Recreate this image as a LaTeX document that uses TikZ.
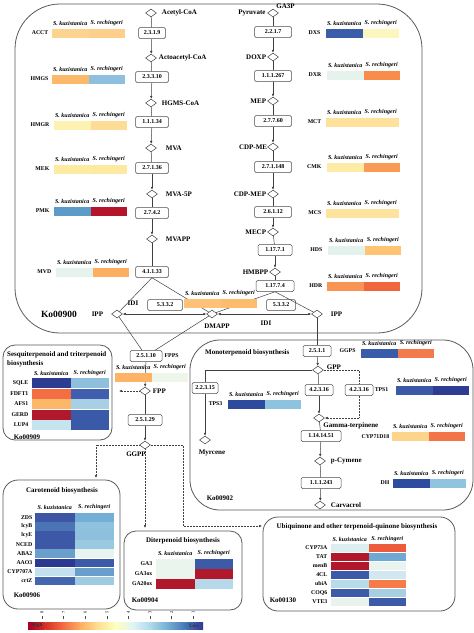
\documentclass[tikz,border=0pt]{standalone}
\usepackage{fontspec}
\setmainfont{Liberation Serif}
\usetikzlibrary{arrows.meta,positioning,shapes.geometric}
\definecolor{lg0}{HTML}{A50026}
\definecolor{lg1}{HTML}{D73027}
\definecolor{lg2}{HTML}{F46D43}
\definecolor{lg3}{HTML}{FDAE61}
\definecolor{lg4}{HTML}{FEE090}
\definecolor{lg5}{HTML}{FFFFBF}
\definecolor{lg6}{HTML}{E0F3F8}
\definecolor{lg7}{HTML}{ABD9E9}
\definecolor{lg8}{HTML}{74ADD1}
\definecolor{lg9}{HTML}{4575B4}
\definecolor{lg10}{HTML}{313695}
% two-cell heat bar: x, y(centre), cell width, height, left hex, right hex
\newcommand{\hmbar}[6]{%
  \definecolor{hmL}{HTML}{#5}\definecolor{hmR}{HTML}{#6}%
  \fill[hmL] (#1,#2-#4/2) rectangle ++(#3,#4);
  \fill[hmR] (#1+#3,#2-#4/2) rectangle ++(#3,#4);}
% species header: name, x, y, cell width
\newcommand{\hmhead}[4]{%
  \node[spec] (#1k) at (#2+#4/2,#3) {S. kuzistanica};
  \node[spec] (#1r) at (#2+1.5*#4,#3) {S. rechingeri};}
\newcommand{\heatpair}[5]{%
  \hmbar{#2}{#3}{36.5}{9}{#4}{#5}
  \hmhead{#1}{#2}{#3-10}{36.5}}

\begin{document}
\begin{tikzpicture}[x=1pt,y=-1pt,
  enz/.style={draw=black!70, fill=white, rounded corners=1.5pt, line width=0.5pt,
    font=\bfseries\fontsize{6}{7}\selectfont, inner xsep=3pt, inner ysep=0pt,
    minimum height=11pt, minimum width=33pt},
  met/.style={diamond, draw=black!75, fill=white, line width=0.5pt, inner sep=0pt,
    minimum width=11pt, minimum height=8pt},
  lbl/.style={font=\bfseries\fontsize{7}{8}\selectfont, inner sep=1pt},
  every label/.style={lbl}, label distance=4pt,
  gene/.style={font=\bfseries\fontsize{5.8}{6}\selectfont, inner sep=0.5pt},
  spec/.style={font=\bfseries\itshape\fontsize{6}{6}\selectfont, inner sep=0pt},
  ttl/.style={font=\bfseries\fontsize{7}{9}\selectfont, inner sep=0pt},
  kolbl/.style={font=\bfseries\fontsize{7}{8}\selectfont, inner sep=0pt},
  frame/.style={draw=black!65, line width=0.8pt},
  link/.style={draw=black!75, line width=0.5pt},
  flow/.style={link, -{Latex[length=3pt,width=2.6pt]}},
  dflow/.style={link, {Latex[length=3pt,width=2.6pt]}-{Latex[length=3pt,width=2.6pt]}},
  dots/.style={link, densely dotted, -{Latex[length=3pt,width=2.6pt]}}]
\useasboundingbox (0,0) rectangle (474,633);

% Pathway frames
\draw[frame, rounded corners=45pt] (15,4) rectangle (422,333);
\draw[frame, rounded corners=30pt] (190,340) rectangle (473,510);
\draw[frame, rounded corners=12pt] (3,345) rectangle (112,440);
\draw[frame, rounded corners=15pt] (3,480) rectangle (120,609);
\draw[frame, rounded corners=12pt] (124,531) rectangle (242,610);
\draw[frame, rounded corners=15pt] (263,517) rectangle (455,611);
\node[kolbl, font=\bfseries\fontsize{9.5}{10}\selectfont] (ko900) at (59,314) {Ko00900};
\node[kolbl] (ko909) at (27,437) {Ko00909};
\node[kolbl] (ko902) at (220,498) {Ko00902};
\node[kolbl] (ko906) at (27,595) {Ko00906};
\node[kolbl] (ko904) at (145,600) {Ko00904};
\node[kolbl] (ko130) at (283,600) {Ko00130};
\node[ttl, anchor=west] (monot) at (205,353) {Monoterpenoid biosynthesis};
\node[ttl, anchor=north west, align=left] (sesqt) at (7,351) {Sesquiterpenoid and triterpenoid\\biosynthesis};
\node[ttl] (cart) at (62,491) {Carotenoid biosynthesis};
\node[ttl] (ditt) at (183,541) {Diterpenoid biosynthesis};
\node[ttl] (ubqt) at (357,527) {Ubiquinone and other terpenoid-quinone biosynthesis};

% MVA pathway
\node[met, label={right:Acetyl-CoA}] (acoa) at (151,13) {};
\node[enz, minimum width=27pt] (e2319) at (152,33) {2.3.1.9};
\node[met, label={[xshift=-3pt]right:Actoacetyl-CoA}] (aacoa) at (151,58) {};
\node[enz] (e23310) at (152,77) {2.3.3.10};
\node[met, label={right:HGMS-CoA}] (hmgcoa) at (151,103) {};
\node[enz] (e11134) at (152,122) {1.1.1.34};
\node[met, label={[xshift=4pt]right:MVA}] (mva) at (151,148) {};
\node[enz] (e27136) at (152,168) {2.7.1.36};
\node[met, label={[xshift=3pt]right:MVA-5P}] (mva5p) at (152,194) {};
\node[enz] (e2742) at (152,213) {2.7.4.2};
\node[met, label={[xshift=3pt]right:MVAPP}] (mvapp) at (152,239) {};
\node[enz] (e41133) at (152,272) {4.1.1.33};

% MEP pathway
\node[met, label={[xshift=3.5pt]left:Pyruvate}, label={[xshift=-3pt,yshift=-2pt]above right:GA3P}] (pyr) at (273,13) {};
\node[enz, minimum width=37pt] (e2217) at (273,32) {2.2.1.7};
\node[met, label={[xshift=4pt]left:DOXP}] (doxp) at (273,57) {};
\node[enz, minimum width=37pt] (e111267) at (273,76) {1.1.1.267};
\node[met, label={[xshift=4pt]left:MEP}] (mep) at (273,101) {};
\node[enz, minimum width=37pt] (e27760) at (273,121) {2.7.7.60};
\node[met, label={[xshift=5pt]left:CDP-ME}] (cdpme) at (273,147) {};
\node[enz, minimum width=37pt] (e271148) at (273,167) {2.7.1.148};
\node[met, label={[xshift=4pt]left:CDP-MEP}] (cdpmep) at (273,194) {};
\node[enz, minimum width=37pt] (e26112) at (273,212) {2.6.1.12};
\node[met, label={[xshift=4pt]left:MECP}] (mecp) at (273,232) {};
\node[enz, minimum width=34pt] (e117171) at (275,250) {1.17.7.1};
\node[met, label={[xshift=4pt]left:HMBPP}] (hmbpp) at (275,272) {};
\node[enz, minimum width=38pt] (e117174) at (275,286) {1.17.7.4};

% IPP / DMAPP
\node[met, label={[xshift=-3pt]left:IPP}] (ippl) at (117,314) {};
\node[met, label={[xshift=5pt]below:DMAPP}] (dmapp) at (212,314) {};
\node[met, label={[xshift=3pt]right:IPP}] (ippr) at (317,314) {};
\node[enz, minimum width=35pt] (e5332a) at (165,305) {5.3.3.2};
\node[lbl] (idia) at (133,303) {IDI};
\node[enz, minimum width=29pt] (e5332b) at (281,305) {5.3.3.2};
\node[lbl] (idib) at (266,323) {IDI};

% FPP / GGPP branch
\node[enz, minimum width=32pt] (e25110) at (146,356) {2.5.1.10};
\node[gene, anchor=west] (fppsg) at (164,356) {FPPS};
\node[met, label={[xshift=-3pt]right:FPP}] (fpp) at (145,391) {};
\node[enz, minimum width=34pt] (e25129) at (145,420) {2.5.1.29};
\node[met, label={[xshift=-9pt,yshift=3pt]below:GGPP}] (ggpp) at (145,445) {};
\coordinate (sesqin) at (119,391);
\coordinate (carin) at (96,478);
\coordinate (ditin) at (145,528);
\coordinate (ubqbend) at (183,526);
\coordinate (ubqin) at (262,526);

% Monoterpenoid branch
\node[enz, minimum width=28pt] (e2511) at (317,351) {2.5.1.1};
\node[gene, anchor=west] (ggpsg) at (339,351) {GGPS};
\node[met, label={[xshift=-2pt,yshift=3pt]right:GPP}] (gpp) at (318,370) {};
\node[enz, minimum width=26pt] (e22315) at (205,388) {2.2.3.15};
\node[met, label={[xshift=7pt]below:Myrcene}] (myrc) at (205,440) {};
\node[enz, minimum width=28pt] (e42316a) at (319,390) {4.2.3.16};
\node[enz, minimum width=28pt] (e42316b) at (359,390) {4.2.3.16};
\node[met, label={[xshift=-2pt,yshift=2pt]below right:Gamma-terpinene}] (gter) at (319,418) {};
\node[enz, minimum width=40pt] (e11414) at (321,436) {1.14.14.51};
\node[met, label={right:p-Cymene}] (pcym) at (320,461) {};
\node[enz, minimum width=40pt] (e111243) at (321,483) {1.1.1.243};
\node[met, label={right:Carvacrol}] (carv) at (320,505) {};

% Connectors
\draw[link] (acoa) -- (e2319);
\draw[flow] (e2319) -- (aacoa);
\draw[link] (aacoa) -- (e23310);
\draw[flow] (e23310) -- (hmgcoa);
\draw[link] (hmgcoa) -- (e11134);
\draw[flow] (e11134) -- (mva);
\draw[link] (mva) -- (e27136);
\draw[flow] (e27136) -- (mva5p);
\draw[link] (mva5p) -- (e2742);
\draw[flow] (e2742) -- (mvapp);
\draw[link] (mvapp) -- (e41133);
\draw[link] (e41133.south) -- (ippl);
\draw[link] (e41133.south) -- (dmapp);
\draw[link] (pyr) -- (e2217);
\draw[flow] (e2217) -- (doxp);
\draw[link] (doxp) -- (e111267);
\draw[flow] (e111267) -- (mep);
\draw[link] (mep) -- (e27760);
\draw[flow] (e27760) -- (cdpme);
\draw[link] (cdpme) -- (e271148);
\draw[flow] (e271148) -- (cdpmep);
\draw[link] (cdpmep) -- (e26112);
\draw[flow] (e26112) -- (mecp);
\draw[link] (mecp) -- (e117171);
\draw[flow] (e117171) -- (hmbpp);
\draw[link] (hmbpp) -- (e117174);
\draw[link] (e117174.south) -- (dmapp);
\draw[link] (e117174.south) -- (ippr);
\draw[dflow] (ippl) -- (dmapp);
\draw[dflow] (dmapp) -- (ippr);
\draw[link] (ippl) -- (e25110);
\draw[link] (dmapp) -- (e25110);
\draw[flow] (e25110) -- (fpp);
\draw[dots] (fpp) -- (sesqin);
\draw[link] (fpp) -- (e25129);
\draw[flow] (e25129) -- (ggpp);
\draw[dots] (ggpp.west) -| (carin);
\draw[dots] (ggpp) -- (ditin);
\draw[dots] (ggpp.east) -| (ubqbend) -- (ubqin);
\draw[link] (ippr) -- (e2511);
\draw[flow] (e2511) -- (gpp);
\draw[link] (gpp.west) -| (e22315);
\draw[flow] (e22315) -- (myrc);
\draw[link] (gpp) -- (e42316a);
\draw[flow] (e42316a) -- (gter);
\draw[link, densely dotted] (gpp.east) -| (e42316b);
\draw[dots] (e42316b) |- (gter.east);
\draw[link] (gter) -- (e11414);
\draw[flow] (e11414) -- (pcym);
\draw[link] (pcym) -- (e111243);
\draw[flow] (e111243) -- (carv);

% Heat bars, MVA side
\heatpair{acct}{52}{33}{FCD38F}{FCD08A}
\heatpair{hmgs}{52}{79}{FDB96A}{8DC0DE}
\heatpair{hmgr}{54}{125}{FEF2B2}{FDDC95}
\heatpair{mek}{54}{169}{FEEBA2}{FEE9A0}
\heatpair{pmk}{54}{211}{5C9AC9}{B5152B}
\heatpair{mvd}{56}{272}{E6F3EC}{FDAE61}
\node[gene, anchor=east] (acct) at (49,33) {ACCT};
\node[gene, anchor=east] (hmgs) at (49,79) {HMGS};
\node[gene, anchor=east] (hmgr) at (50,125) {HMGR};
\node[gene, anchor=east] (mek) at (50,169) {MEK};
\node[gene, anchor=east] (pmk) at (50,211) {PMK};
\node[gene, anchor=east] (mvd) at (52,272) {MVD};
% Heat bars, MEP side
\heatpair{dxs}{326}{33}{3A5CA9}{FEF6BF}
\heatpair{dxr}{327}{75}{E5F3EC}{F88D4B}
\heatpair{mct}{326}{122}{FEE19B}{FEE19B}
\heatpair{cmk}{327}{167}{FEEBA6}{F99A55}
\heatpair{mcs}{326}{213}{FEE39E}{FEE39E}
\heatpair{hds}{328}{250}{E3F2EC}{FDC474}
\heatpair{hdr}{327}{286}{F99554}{F0663F}
\node[gene, anchor=east] (dxs) at (321,33) {DXS};
\node[gene, anchor=east] (dxr) at (322,75) {DXR};
\node[gene, anchor=east] (mct) at (322,122) {MCT};
\node[gene, anchor=east] (cmk) at (322,167) {CMK};
\node[gene, anchor=east] (mcs) at (322,213) {MCS};
\node[gene, anchor=east] (hds) at (323,250) {HDS};
\node[gene, anchor=east] (hdr) at (323,286) {HDR};
% Heat bars, branch points
\heatpair{idi}{184}{303}{FDC278}{FDBB6C}
\heatpair{fpps}{115}{377}{FDB264}{EDF6E8}
\heatpair{ggps}{361}{353}{3A5BA9}{F27A4B}
\heatpair{tps3}{228}{404}{2E4A9C}{8EC3E0}
\heatpair{tps1}{396}{390}{3A5AA8}{2C3D93}
\heatpair{cyp71}{392}{436}{FDD58A}{F27447}
\heatpair{dh}{393}{483}{2D4C9F}{90C3E0}
\node[gene, anchor=east] (tps3) at (223,404) {TPS3};
\node[gene, anchor=east] (tps1) at (389,390) {TPS1};
\node[gene, anchor=east] (cyp71) at (390,437) {CYP71D18};
\node[gene, anchor=east] (dh) at (390,483) {DH};

% Sesquiterpenoid and triterpenoid
\hmhead{sesq}{32}{373}{38.5}
\hmbar{32}{383}{38.5}{9.5}{2C3D91}{8EC0DD}
\hmbar{32}{394}{38.5}{9.5}{F46D43}{3F5FAE}
\hmbar{32}{404}{38.5}{9.5}{FDB768}{A7D0E4}
\hmbar{32}{415}{38.5}{9.5}{B2182B}{3A59A8}
\hmbar{32}{425}{38.5}{9.5}{C6E4EE}{3A5AA8}
\node[gene, anchor=east] (sqle) at (29,383) {SQLE};
\node[gene, anchor=east] (fdft1) at (29,394) {FDFT1};
\node[gene, anchor=east] (afs1) at (29,404) {AFS1};
\node[gene, anchor=east] (gerd) at (29,415) {GERD};
\node[gene, anchor=east] (lup4) at (29,425) {LUP4};

% Carotenoid
\hmhead{car}{35}{507}{39.5}
\hmbar{35}{517.5}{39.5}{8.3}{3C55A5}{75AED4}
\hmbar{35}{526.5}{39.5}{8.3}{4A74B5}{8EC2DE}
\hmbar{35}{535.5}{39.5}{8.3}{3C58A6}{8CC0DD}
\hmbar{35}{544.5}{39.5}{8.3}{3C58A6}{9ACAE1}
\hmbar{35}{553.5}{39.5}{8.3}{6A9FCC}{E8F3EE}
\hmbar{35}{563}{39.5}{8.3}{2B3990}{3C5AA8}
\hmbar{35}{572}{39.5}{8.3}{C3E0EC}{6A9FCC}
\hmbar{35}{581}{39.5}{8.3}{4466AE}{9DCBE2}
\node[gene, anchor=east] (zds) at (33,517.5) {ZDS};
\node[gene, anchor=east] (lcyb) at (33,526.5) {lcyB};
\node[gene, anchor=east] (lcye) at (33,535.5) {lcyE};
\node[gene, anchor=east] (nced) at (33,544.5) {NCED};
\node[gene, anchor=east] (aba2) at (33,553.5) {ABA2};
\node[gene, anchor=east] (aao3) at (33,563) {AAO3};
\node[gene, anchor=east] (cyp707a) at (33,572) {CYP707A};
\node[gene, anchor=east] (crtz) at (33,581) {crtZ};

% Diterpenoid
\hmhead{dit}{156}{553}{38.5}
\hmbar{156}{564}{38.5}{9.5}{EAF5EE}{3B5BA9}
\hmbar{156}{574}{38.5}{9.5}{EAF5EE}{B2182B}
\hmbar{156}{584}{38.5}{9.5}{B2182B}{B5D9E9}
\node[gene, anchor=east] (ga3) at (153,564) {GA3};
\node[gene, anchor=east] (ga3ox) at (153,574) {GA3ox};
\node[gene, anchor=east] (ga20ox) at (153,584) {GA20ox};

% Ubiquinone and other terpenoid-quinone
\hmhead{ubq}{331}{539}{37.5}
\hmbar{331}{548}{37.5}{8.3}{DCEEF0}{EC5B3C}
\hmbar{331}{557}{37.5}{8.3}{B2182B}{6FA8D2}
\hmbar{331}{566}{37.5}{8.3}{B2182B}{E9F4EE}
\hmbar{331}{575}{37.5}{8.3}{3C5AA8}{D1E8F0}
\hmbar{331}{584}{37.5}{8.3}{B8DBEA}{F67B48}
\hmbar{331}{593}{37.5}{8.3}{3C5AA8}{A6CFE3}
\hmbar{331}{602}{37.5}{8.3}{E8F3EE}{3C5AA8}
\node[gene, anchor=east] (cyp73a) at (328,548) {CYP73A};
\node[gene, anchor=east] (tat) at (328,557) {TAT};
\node[gene, anchor=east] (menb) at (328,566) {menB};
\node[gene, anchor=east] (fourcl) at (328,575) {4CL};
\node[gene, anchor=east] (ubia) at (328,584) {ubiA};
\node[gene, anchor=east] (coq6) at (328,593) {COQ6};
\node[gene, anchor=east] (vte3) at (328,602) {VTE3};

% Colour scale
\foreach \i in {0,...,9} {
  \pgfmathtruncatemacro{\j}{\i+1}
  \shade[left color=lg\i, right color=lg\j] (28+17.5*\i,622) rectangle (45.6+17.5*\i,629);
}
\node[font=\bfseries\fontsize{5}{5}\selectfont, text=black!80, inner sep=0pt] (high) at (37,625.5) {High};
\node[font=\bfseries\fontsize{5}{5}\selectfont, text=black!80, inner sep=0pt] (low) at (194,625.5) {Low};
\foreach \v [count=\k from 0] in {8,...,1} {
  \node[rotate=90, font=\fontsize{4.5}{5}\selectfont, inner sep=0pt] (tick\v) at (42+21.6*\k,612) {\v};
  \draw[black!70, line width=0.4pt] (42+21.6*\k,616) -- (42+21.6*\k,618.5);
}
\end{tikzpicture}
\end{document}
